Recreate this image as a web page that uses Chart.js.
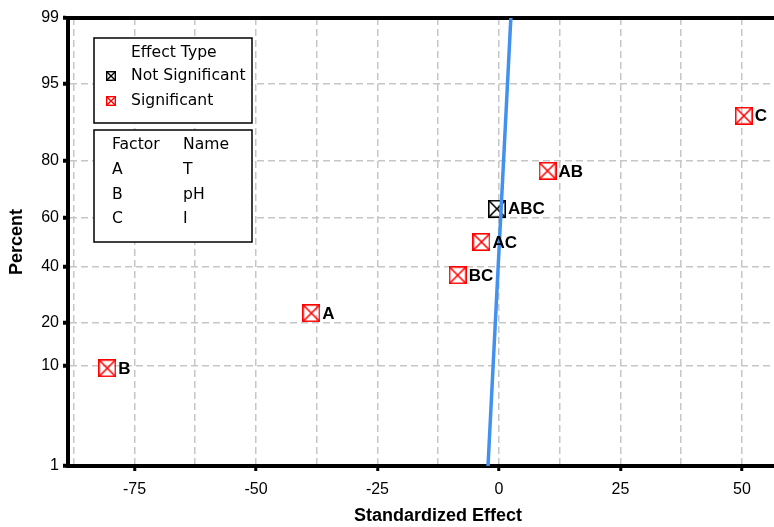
<!DOCTYPE html>
<html lang="en">
<head>
    <meta charset="UTF-8">
    <title>Normal Plot of the Standardized Effects</title>
    <style>
        body {
            margin: 0;
            padding: 0;
            background-color: #fff;
        }
        /* the plot runs on past the right edge of the frame */
        #chart-box {
            width: 774px;
            height: 527px;
            overflow: hidden;
        }
    </style>
</head>
<body>
<div id="chart-box">
    <canvas id="effects-chart" width="812" height="527"></canvas>
</div>
<script src="https://cdn.jsdelivr.net/npm/chart.js"></script>
<script>
    // effects, sorted by size, with their plotting percent
    const effectNames = ['B', 'A', 'BC', 'AC', 'ABC', 'AB', 'C'];
    const effectValues = [-80.6, -38.6, -8.5, -3.6, -0.4, 10.0, 50.4];
    const effectPercents = [9.5, 23.0, 36.5, 50.0, 63.5, 77.0, 90.5];
    const effectSignificant = [true, true, true, true, false, true, true];

    // reference line for zero effects (ends at 1% and 99%)
    const fitLineX = [-2.25, 2.45];
    const fitLinePercent = [1, 99];

    // axes
    const yTickPercents = [1, 10, 20, 40, 60, 80, 95, 99];
    const xGridValues = [-87.5, -75, -62.5, -50, -37.5, -25, -12.5, 0, 12.5, 25, 37.5, 50, 62.5];
    const xTickValues = [-75, -50, -25, 0, 25, 50];

    // legend tables
    const effectTypes = ['Not Significant', 'Significant'];
    const factorLetters = ['A', 'B', 'C'];
    const factorNames = ['T', 'pH', 'I'];

    const RED = '#ff0000';
    const BLUE = '#4391ef';

    // inverse of the standard normal cdf (Acklam)
    function probit(p) {
        const a = [-3.969683028665376e+01, 2.209460984245205e+02, -2.759285104469687e+02,
                   1.383577518672690e+02, -3.066479806614716e+01, 2.506628277459239e+00];
        const b = [-5.447609879822406e+01, 1.615858368580409e+02, -1.556989798598866e+02,
                   6.680131188771972e+01, -1.328068155288572e+01];
        const c = [-7.784894002430293e-03, -3.223964580411365e-01, -2.400758277161838e+00,
                   -2.549732539343734e+00, 4.374664141464968e+00, 2.938163982698783e+00];
        const d = [7.784695709041462e-03, 3.224671290700398e-01, 2.445134137142996e+00,
                   3.754408661907416e+00];
        const pl = 0.02425;
        let q, r;
        if (p < pl) {
            q = Math.sqrt(-2 * Math.log(p));
            return (((((c[0] * q + c[1]) * q + c[2]) * q + c[3]) * q + c[4]) * q + c[5]) /
                ((((d[0] * q + d[1]) * q + d[2]) * q + d[3]) * q + 1);
        }
        if (p > 1 - pl) {
            q = Math.sqrt(-2 * Math.log(1 - p));
            return -(((((c[0] * q + c[1]) * q + c[2]) * q + c[3]) * q + c[4]) * q + c[5]) /
                ((((d[0] * q + d[1]) * q + d[2]) * q + d[3]) * q + 1);
        }
        q = p - 0.5;
        r = q * q;
        return (((((a[0] * r + a[1]) * r + a[2]) * r + a[3]) * r + a[4]) * r + a[5]) * q /
            (((((b[0] * r + b[1]) * r + b[2]) * r + b[3]) * r + b[4]) * r + 1);
    }

    function normCdf(z) {
        const t = 1 / (1 + 0.2316419 * Math.abs(z));
        const poly = t * (0.319381530 + t * (-0.356563782 + t * (1.781477937 + t * (-1.821255978 + t * 1.330274429))));
        const tail = Math.exp(-z * z / 2) / Math.sqrt(2 * Math.PI) * poly;
        return z >= 0 ? 1 - tail : tail;
    }

    // normal probability axis: percent in, position by normal score
    class ProbitScale extends Chart.LinearScale {
        determineDataLimits() {
            this.min = this.options.min;
            this.max = this.options.max;
        }
        buildTicks() {
            return yTickPercents.map(v => ({ value: v }));
        }
        configure() {
            super.configure();
            this._zLow = probit(this.min / 100);
            this._zHigh = probit(this.max / 100);
        }
        getPixelForValue(value) {
            const z = probit(value / 100);
            return this.getPixelForDecimal((z - this._zLow) / (this._zHigh - this._zLow));
        }
        getValueForPixel(pixel) {
            const z = this._zLow + this.getDecimalForPixel(pixel) * (this._zHigh - this._zLow);
            return normCdf(z) * 100;
        }
    }
    ProbitScale.id = 'probit';
    ProbitScale.defaults = {};
    Chart.register(ProbitScale);

    // square with an X through it
    function boxCross(color, size, lw) {
        const c = document.createElement('canvas');
        c.width = size;
        c.height = size;
        const g = c.getContext('2d');
        const o = lw / 2;
        g.strokeStyle = color;
        g.lineWidth = lw;
        g.strokeRect(o, o, size - lw, size - lw);
        g.beginPath();
        g.moveTo(o, o);
        g.lineTo(size - o, size - o);
        g.moveTo(size - o, o);
        g.lineTo(o, size - o);
        g.stroke();
        return c;
    }

    const redMark = boxCross(RED, 18, 1.6);
    const blackMark = boxCross('#000', 18, 1.6);

    function effectPoints(sig) {
        const pts = [];
        effectNames.forEach((name, i) => {
            if (effectSignificant[i] === sig) {
                pts.push({ x: effectValues[i], y: effectPercents[i], name: name });
            }
        });
        return pts;
    }

    // top frame line (chart.js only draws the axis sides)
    const topFrame = {
        id: 'topFrame',
        beforeDatasetsDraw(chart) {
            const { ctx, chartArea } = chart;
            ctx.save();
            ctx.strokeStyle = '#000';
            ctx.lineWidth = 4;
            ctx.beginPath();
            ctx.moveTo(chartArea.left - 2, chartArea.top);
            ctx.lineTo(chartArea.right + 2, chartArea.top);
            ctx.lineTo(chartArea.right + 2, chartArea.bottom + 2);
            ctx.stroke();
            ctx.restore();
        }
    };

    // effect names next to each marker
    const pointNames = {
        id: 'pointNames',
        afterDatasetsDraw(chart) {
            const ctx = chart.ctx;
            ctx.save();
            ctx.font = 'bold 17px "Liberation Sans", Arial, sans-serif';
            ctx.fillStyle = '#000';
            ctx.textAlign = 'left';
            ctx.textBaseline = 'middle';
            chart.data.datasets.forEach((ds, di) => {
                if (!ds.showNames) return;
                const meta = chart.getDatasetMeta(di);
                meta.data.forEach((el, i) => {
                    ctx.fillText(ds.data[i].name, el.x + 11, el.y + 1);
                });
            });
            ctx.restore();
        }
    };

    // effect type and factor boxes
    const legendBoxes = {
        id: 'legendBoxes',
        afterDatasetsDraw(chart) {
            const ctx = chart.ctx;
            ctx.save();
            ctx.fillStyle = '#fff';
            ctx.strokeStyle = '#000';
            ctx.lineWidth = 1.5;
            ctx.fillRect(94, 38, 158, 85);
            ctx.strokeRect(94, 38, 158, 85);
            ctx.fillRect(94, 130, 158, 112);
            ctx.strokeRect(94, 130, 158, 112);

            ctx.fillStyle = '#000';
            ctx.font = '15.6px "DejaVu Sans", sans-serif';
            ctx.textAlign = 'left';
            ctx.textBaseline = 'middle';
            ctx.fillText('Effect Type', 131, 53);
            const marks = [boxCross('#000', 10, 1.4), boxCross(RED, 10, 1.4)];
            effectTypes.forEach((t, i) => {
                const y = 76 + i * 25;
                ctx.drawImage(marks[i], 106, y - 5);
                ctx.fillText(t, 131, y);
            });

            ctx.fillText('Factor', 112, 145);
            ctx.fillText('Name', 183, 145);
            factorLetters.forEach((f, i) => {
                const y = 170 + i * 24.5;
                ctx.fillText(f, 112, y);
                ctx.fillText(factorNames[i], 183, y);
            });
            ctx.restore();
        }
    };

    Chart.defaults.font.family = '"Liberation Sans", Arial, sans-serif';
    Chart.defaults.color = '#000';

    const gridColor = '#c6c6c6';
    const gridDash = [7, 4];

    new Chart(document.getElementById('effects-chart'), {
        type: 'scatter',
        data: {
            datasets: [
                {
                    data: fitLineX.map((x, i) => ({ x: x, y: fitLinePercent[i] })),
                    showLine: true,
                    borderColor: BLUE,
                    borderWidth: 3.5,
                    pointRadius: 0,
                    clip: 4
                },
                {
                    data: effectPoints(false),
                    pointStyle: blackMark,
                    showNames: true
                },
                {
                    data: effectPoints(true),
                    pointStyle: redMark,
                    showNames: true
                }
            ]
        },
        options: {
            responsive: false,
            animation: false,
            events: [],
            devicePixelRatio: 1,
            layout: {
                autoPadding: false,
                padding: { top: 18, right: 4, left: 0, bottom: 0 }
            },
            plugins: {
                legend: { display: false },
                tooltip: { enabled: false }
            },
            scales: {
                x: {
                    type: 'linear',
                    min: -88.68,
                    max: 63.6,
                    afterBuildTicks: scale => {
                        scale.ticks = xGridValues.map(v => ({ value: v }));
                    },
                    afterFit: scale => {
                        scale.height = 61;
                        scale.paddingLeft = 0;
                        scale.paddingRight = 0;
                    },
                    ticks: {
                        autoSkip: false,
                        maxRotation: 0,
                        padding: 9,
                        font: { size: 16 },
                        callback: v => xTickValues.includes(v) ? String(v) : ''
                    },
                    grid: {
                        color: gridColor,
                        lineWidth: 1.5,
                        tickLength: 5,
                        tickWidth: 3,
                        tickBorderDash: [],
                        tickColor: ctx => (ctx.tick && xTickValues.includes(ctx.tick.value)) ? '#000' : 'rgba(0,0,0,0)'
                    },
                    border: { color: '#000', width: 4, dash: gridDash },
                    title: {
                        display: true,
                        text: 'Standardized Effect',
                        font: { size: 18, weight: 'bold' },
                        padding: { top: 0, bottom: 0 }
                    }
                },
                y: {
                    type: 'probit',
                    min: 1,
                    max: 99,
                    afterFit: scale => { scale.width = 68; },
                    ticks: {
                        padding: 4,
                        font: { size: 16 },
                        callback: v => String(v)
                    },
                    grid: {
                        color: gridColor,
                        lineWidth: 1.5,
                        tickLength: 5,
                        tickWidth: 4,
                        tickBorderDash: [],
                        tickColor: '#000'
                    },
                    border: { color: '#000', width: 4, dash: gridDash },
                    title: {
                        display: true,
                        text: 'Percent',
                        font: { size: 18, weight: 'bold' },
                        padding: { top: 6, bottom: 0 }
                    }
                }
            }
        },
        plugins: [topFrame, pointNames, legendBoxes]
    });
</script>
</body>
</html>
